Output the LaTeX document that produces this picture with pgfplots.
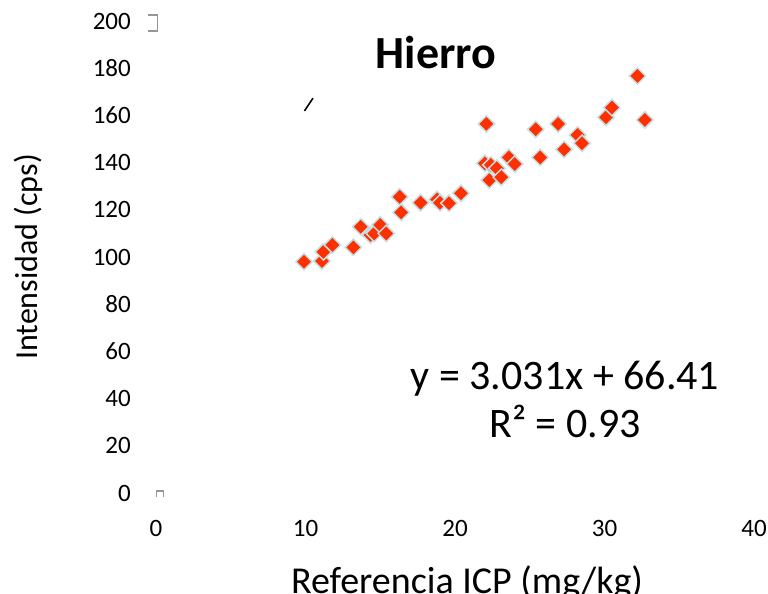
\documentclass[border=0pt]{standalone}
\usepackage{pgfplots}
\pgfplotsset{compat=1.18}
\usepackage{fontspec}
\setmainfont{Carlito}

\definecolor{ptfill}{RGB}{255,48,0}
\definecolor{ptedge}{RGB}{196,224,230}
\definecolor{stub}{RGB}{150,150,150}

\pgfplotstableread{
x y
9.9 98.0
11.1 98.3
11.2 102.2
11.8 105.1
13.2 104.1
13.7 112.8
14.35 109.3
14.6 110.0
15.0 113.6
15.4 110.0
16.3 125.5
16.4 118.9
17.7 123.0
18.8 124.4
19.0 123.0
19.6 122.8
20.4 127.0
22.1 156.4
22.0 139.7
22.4 139.0
22.3 132.6
22.8 137.6
23.1 133.8
23.6 142.2
24.0 139.4
25.4 154.1
25.7 142.2
26.9 156.4
27.3 145.6
28.2 151.7
28.5 148.2
30.1 159.2
30.5 163.3
32.2 176.7
32.7 158.1
}\hierro

\begin{document}
\begin{tikzpicture}
\begin{axis}[
  at={(0pt,0pt)}, anchor=south west,
  scale only axis,
  width=598pt, height=472pt,
  xmin=0, xmax=40, ymin=0, ymax=200,
  xtick={0,10,20,30,40},
  ytick={0,20,...,200},
  axis line style={draw=none},
  major tick length=0pt,
  /pgf/number format/assume math mode=true,
  ticklabel style={font=\fontsize{25}{25}\selectfont, inner sep=0pt},
  yticklabel style={anchor=east, xshift=-25pt},
  xticklabel style={anchor=north, yshift=-27pt},
  clip=false,
]
% small grey stubs at the ends of the vertical axis
\addplot[stub, line width=1.8pt, no marks] coordinates {(-0.55,202.6) (0.1,202.6) (0.1,195.8) (-0.55,195.8)};
\addplot[stub, line width=1.8pt, no marks] coordinates {(0.03,-1.8) (0.03,1.0) (0.5,1.0) (0.5,-1.8)};
% short black stroke
\addplot[black, line width=1.6pt, no marks] coordinates {(9.93,161.9) (10.5,167.3)};
% measured points
\addplot[only marks, mark=square*, mark size=5.8pt,
  mark options={rotate=45, fill=ptfill, draw=ptedge, line width=1.5pt}]
  table[x=x, y=y] {\hierro};
\end{axis}
% title, axis titles and fit equation
\node[font=\bfseries\fontsize{46}{46}\selectfont] at (280pt,440pt) {Hierro};
\node[rotate=90, anchor=base, font=\fontsize{32}{32}\selectfont] at (-118pt,236pt) {Intensidad (cps)};
\node[anchor=base, font=\fontsize{38}{38}\selectfont] at (311pt,-100pt) {Referencia ICP (mg/kg)};
\node[anchor=base, font=\fontsize{42}{42}\selectfont] at (409pt,103pt) {y = 3.031x + 66.41};
\node[anchor=base, font=\fontsize{42}{42}\selectfont] at (409pt,55pt) {R² = 0.93};
\pgfresetboundingbox
\useasboundingbox (-156pt,-101pt) rectangle (612pt,493pt);
\end{tikzpicture}
\end{document}
